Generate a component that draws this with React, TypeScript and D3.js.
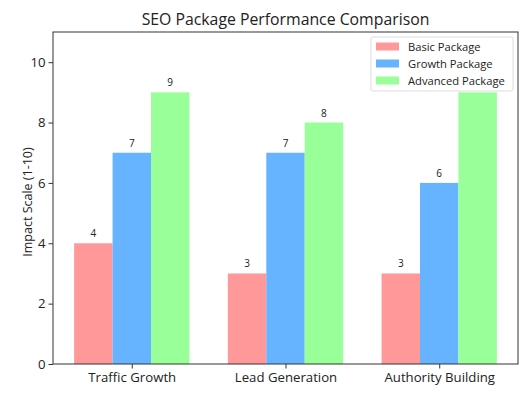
import { useEffect, useRef } from "react";
import * as d3 from "d3";

const categories = ["Traffic Growth", "Lead Generation", "Authority Building"];
const seriesNames = ["Basic Package", "Growth Package", "Advanced Package"];
const basicValues = [4, 3, 3];
const growthValues = [7, 7, 6];
const advancedValues = [9, 8, 9];
const yTicks = [0, 2, 4, 6, 8, 10];
const colors = ["#ff9999", "#66b3ff", "#99ff99"];

const FONT = "'Open Sans', 'Noto Sans', sans-serif";

export default function App() {
  const chartRef = useRef<SVGSVGElement>(null);

  useEffect(() => {
    const width = 532;
    const height = 400;
    const margin = { top: 32, right: 14, bottom: 36, left: 53 };
    const innerW = width - margin.left - margin.right;
    const innerH = height - margin.top - margin.bottom;

    const svg = d3.select(chartRef.current);
    svg.selectAll("*").remove();
    svg.attr("width", width).attr("height", height);

    const g = svg
      .append("g")
      .attr("transform", `translate(${margin.left},${margin.top})`);

    const series = [basicValues, growthValues, advancedValues];
    const barW = 0.25;

    // matplotlib-like x limits around bar groups
    const xScale = d3
      .scaleLinear()
      .domain([-0.5125, categories.length - 1 + 0.5125])
      .range([0, innerW]);
    const yScale = d3.scaleLinear().domain([0, 11]).range([innerH, 0]);

    // bars
    series.forEach((vals, si) => {
      const offset = (si - 1) * barW;
      g.selectAll(`rect.s${si}`)
        .data(vals)
        .enter()
        .append("rect")
        .attr("x", (d, i) => xScale(i + offset - barW / 2))
        .attr("y", (d) => yScale(d))
        .attr("width", xScale(barW) - xScale(0))
        .attr("height", (d) => innerH - yScale(d))
        .attr("fill", colors[si]);

      g.selectAll(`text.v${si}`)
        .data(vals)
        .enter()
        .append("text")
        .attr("x", (d, i) => xScale(i + offset))
        .attr("y", (d) => yScale(d) - 6)
        .attr("text-anchor", "middle")
        .attr("font-family", FONT)
        .attr("font-size", 10)
        .attr("fill", "#222")
        .text((d) => d);
    });

    // axes
    const yAxis = g
      .append("g")
      .call(d3.axisLeft(yScale).tickValues(yTicks).tickSize(4.5).tickPadding(3));
    const xAxis = g
      .append("g")
      .attr("transform", `translate(0,${innerH})`)
      .call(
        d3
          .axisBottom(xScale)
          .tickValues(categories.map((_, i) => i))
          .tickFormat((d) => categories[d as number])
          .tickSize(4.5)
          .tickPadding(4)
      );
    [xAxis, yAxis].forEach((ax) => {
      ax.select(".domain").remove();
      ax.selectAll("line").attr("stroke", "#333");
      ax.selectAll("text")
        .attr("font-family", FONT)
        .attr("font-size", 13.2)
        .attr("fill", "#222");
    });

    // frame
    g.append("rect")
      .attr("width", innerW)
      .attr("height", innerH)
      .attr("fill", "none")
      .attr("stroke", "#333")
      .attr("stroke-width", 1);

    // title
    svg
      .append("text")
      .attr("x", margin.left + innerW / 2)
      .attr("y", 25)
      .attr("text-anchor", "middle")
      .attr("font-family", FONT)
      .attr("font-size", 15.8)
      .attr("fill", "#222")
      .text("SEO Package Performance Comparison");

    // y label
    svg
      .append("text")
      .attr("transform", `translate(32,${margin.top + innerH / 2 + 4}) rotate(-90)`)
      .attr("text-anchor", "middle")
      .attr("font-family", FONT)
      .attr("font-size", 12.5)
      .attr("fill", "#222")
      .text("Impact Scale (1-10)");

    // legend (covers the last value label, as in the original)
    const legend = svg.append("g").attr("transform", "translate(371,37)");
    legend
      .append("rect")
      .attr("width", 142)
      .attr("height", 54)
      .attr("rx", 2)
      .attr("fill", "white")
      .attr("stroke", "#ddd");
    seriesNames.forEach((name, i) => {
      const row = legend.append("g").attr("transform", `translate(5,${5.5 + i * 17})`);
      row
        .append("rect")
        .attr("width", 23)
        .attr("height", 8)
        .attr("fill", colors[i]);
      row
        .append("text")
        .attr("x", 32)
        .attr("y", 8)
        .attr("font-family", FONT)
        .attr("font-size", 11.2)
        .attr("fill", "#222")
        .text(name);
    });
  }, []);

  return <svg ref={chartRef} style={{ position: "absolute", left: 0, top: 0 }} />;
}
